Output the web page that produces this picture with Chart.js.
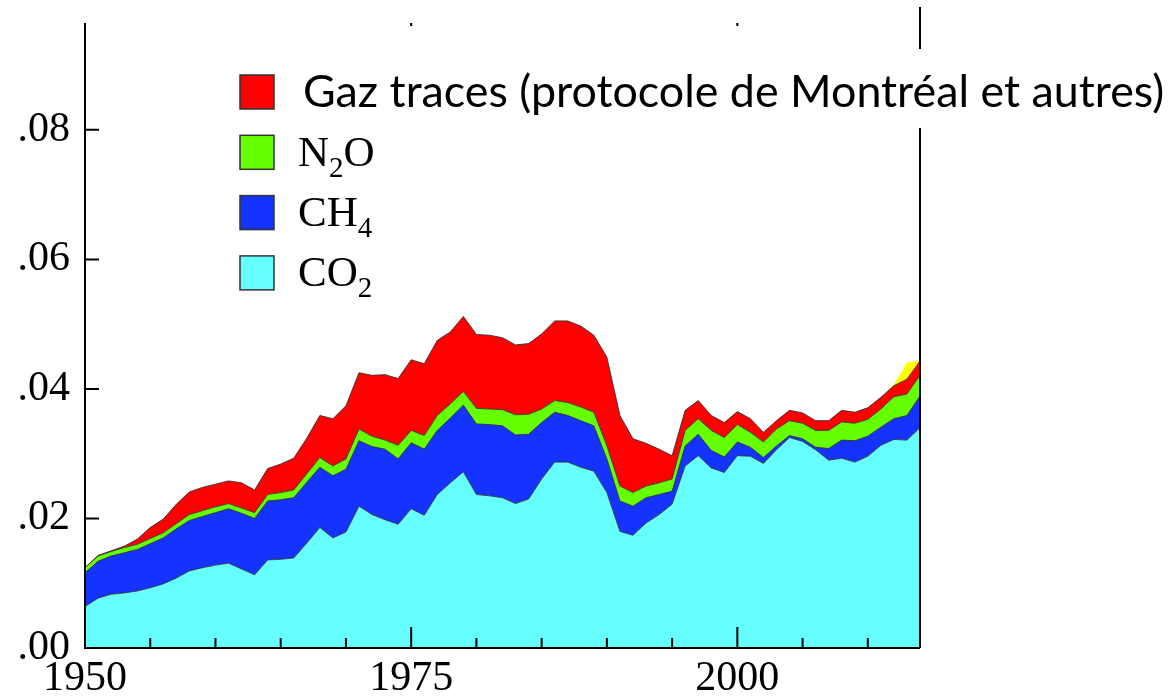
<!DOCTYPE html>
<html>
<head>
<meta charset="utf-8">
<script src="https://cdn.jsdelivr.net/npm/chart.js@4.4.1/dist/chart.umd.min.js"></script>
<style>
    html, body { margin: 0; padding: 0; background: #ffffff; }
    #wrap { width: 1176px; height: 699px; position: relative; }
</style>
</head>
<body>
<div id="wrap"><canvas id="forcageChart"></canvas></div>
<script>
// DONNEES
const years = [];
for (let y = 1950; y <= 2014; y++) years.push(y);

const co2 = [
    0.0064, 0.0077, 0.0083, 0.0085, 0.0088, 0.0093, 0.0099, 0.0108, 0.0119, 0.0124,
    0.0128, 0.0131, 0.0122, 0.0113, 0.0136, 0.0137, 0.0139, 0.0162, 0.0186, 0.0170,
    0.0179, 0.0219, 0.0206, 0.0198, 0.0191, 0.0215, 0.0205, 0.0237, 0.0255, 0.0272,
    0.0237, 0.0235, 0.0232, 0.0223, 0.0230, 0.0261, 0.0287, 0.0287, 0.0279, 0.0273,
    0.0240, 0.0180, 0.0174, 0.0193, 0.0206, 0.0222, 0.0281, 0.0297, 0.0278, 0.0271,
    0.0297, 0.0296, 0.0285, 0.0306, 0.0325, 0.0319, 0.0306, 0.0290, 0.0293, 0.0287,
    0.0296, 0.0313, 0.0322, 0.0321, 0.0340
];
const ch4 = [
    0.0052, 0.0057, 0.0059, 0.0062, 0.0064, 0.0068, 0.0071, 0.0076, 0.0078, 0.0079,
    0.0081, 0.0084, 0.0086, 0.0087, 0.0091, 0.0092, 0.0093, 0.0094, 0.0093, 0.0096,
    0.0097, 0.0101, 0.0105, 0.0109, 0.0101, 0.0102, 0.0102, 0.0099, 0.0100, 0.0103,
    0.0109, 0.0110, 0.0111, 0.0106, 0.0100, 0.0087, 0.0077, 0.0072, 0.0072, 0.0070,
    0.0052, 0.0047, 0.0045, 0.0039, 0.0031, 0.0020, 0.0031, 0.0033, 0.0027, 0.0024,
    0.0021, 0.0014, 0.0009, 0.0006, 0.0003, 0.0004, 0.0004, 0.0018, 0.0028, 0.0033,
    0.0031, 0.0028, 0.0032, 0.0038, 0.0049
];
const n2o = [
    0.0008, 0.0008, 0.0007, 0.0008, 0.0008, 0.0008, 0.0008, 0.0008, 0.0009, 0.0009,
    0.0009, 0.0008, 0.0008, 0.0009, 0.0010, 0.0011, 0.0012, 0.0013, 0.0015, 0.0015,
    0.0016, 0.0018, 0.0016, 0.0014, 0.0021, 0.0019, 0.0021, 0.0023, 0.0022, 0.0021,
    0.0024, 0.0024, 0.0025, 0.0031, 0.0031, 0.0021, 0.0018, 0.0020, 0.0021, 0.0021,
    0.0020, 0.0023, 0.0021, 0.0018, 0.0018, 0.0019, 0.0024, 0.0024, 0.0031, 0.0030,
    0.0027, 0.0023, 0.0024, 0.0026, 0.0023, 0.0024, 0.0026, 0.0028, 0.0028, 0.0027,
    0.0026, 0.0028, 0.0034, 0.0033, 0.0032
];
const gazTraces = [
    0.0000, 0.0001, 0.0001, 0.0002, 0.0008, 0.0017, 0.0021, 0.0030, 0.0035, 0.0036,
    0.0035, 0.0035, 0.0039, 0.0035, 0.0040, 0.0044, 0.0049, 0.0055, 0.0065, 0.0073,
    0.0082, 0.0087, 0.0094, 0.0101, 0.0103, 0.0109, 0.0111, 0.0116, 0.0111, 0.0116,
    0.0114, 0.0114, 0.0111, 0.0108, 0.0109, 0.0116, 0.0123, 0.0126, 0.0125, 0.0119,
    0.0137, 0.0109, 0.0083, 0.0066, 0.0052, 0.0036, 0.0031, 0.0028, 0.0023, 0.0023,
    0.0020, 0.0021, 0.0015, 0.0013, 0.0016, 0.0016, 0.0015, 0.0015, 0.0018, 0.0017,
    0.0018, 0.0018, 0.0017, 0.0023, 0.0022
];
// petite bande jaune a la fin
const jauneFin = { 2012: 0.0002, 2013: 0.0026, 2014: 0.0001 };
const jaune = years.map(y => jauneFin[y] || 0);

const yTickValues = [0, 0.02, 0.04, 0.06, 0.08];
const yTickLabels = ['.00', '.02', '.04', '.06', '.08'];
const xTickYears = [1950, 1975, 2000];
const legendLabels = ['Gaz traces (protocole de Montréal et autres)', 'N₂O', 'CH₄', 'CO₂'];
const legendColors = ['#FF0000', '#66FF00', '#1433FF', '#66FFFF'];

const SERIF = '"Liberation Serif", "DejaVu Serif", serif';

// traits des axes, vers l'interieur
const axisMarks = {
    id: 'axisMarks',
    afterDatasetsDraw(chart) {
        const { ctx, chartArea: a, scales } = chart;
        const x = scales.x, y = scales.y;
        ctx.save();
        ctx.strokeStyle = '#000';
        ctx.lineWidth = 2;
        ctx.beginPath();
        ctx.moveTo(a.left, a.top);
        ctx.lineTo(a.left, a.bottom);
        ctx.lineTo(a.right, a.bottom);
        ctx.moveTo(a.right, 7);
        ctx.lineTo(a.right, a.bottom);
        years.forEach((yr, i) => {
            if ((yr - 1950) % 5 !== 0) return;
            const px = x.getPixelForValue(i);
            const len = (yr - 1950) % 25 === 0 ? 21 : 10;
            ctx.moveTo(px, a.bottom);
            ctx.lineTo(px, a.bottom - len);
            if (xTickYears.includes(yr) && yr !== 1950) {
                ctx.moveTo(px, a.top);
                ctx.lineTo(px, a.top + 3);
            }
        });
        yTickValues.forEach(v => {
            const py = y.getPixelForValue(v);
            ctx.moveTo(a.left, py);
            ctx.lineTo(a.left + 14, py);
        });
        ctx.stroke();
        ctx.restore();
    }
};

function drawWithSubscripts(ctx, text, x, baseline, size) {
    const subs = '₀₁₂₃₄₅₆₇₈₉';
    let cx = x;
    for (const ch of text) {
        const k = subs.indexOf(ch);
        if (k >= 0) {
            ctx.font = Math.round(size * 0.68) + 'px ' + SERIF;
            ctx.fillText(String(k), cx, baseline + 11);
            cx += ctx.measureText(String(k)).width;
        } else {
            ctx.font = size + 'px ' + SERIF;
            ctx.fillText(ch, cx, baseline);
            cx += ctx.measureText(ch).width;
        }
    }
}

// LEGENDE
const gasLegend = {
    id: 'gasLegend',
    afterDraw(chart) {
        const ctx = chart.ctx;
        ctx.save();
        ctx.fillStyle = '#fff';
        ctx.fillRect(290, 49, 886, 79);
        ctx.textBaseline = 'alphabetic';
        ctx.textAlign = 'left';
        legendLabels.forEach((label, i) => {
            const top = 75 + i * 60.3;
            ctx.fillStyle = legendColors[i];
            ctx.fillRect(240, top, 34, 34);
            ctx.strokeStyle = '#333';
            ctx.lineWidth = 1.5;
            ctx.strokeRect(240, top, 34, 34);
            ctx.fillStyle = '#000';
            if (i === 0) {
                ctx.font = '40px Lato';
                const w = ctx.measureText(label).width;
                const size = 40 * 861 / w;
                ctx.font = size.toFixed(1) + 'px Lato';
                ctx.fillText(label, 303, 107);
            } else {
                drawWithSubscripts(ctx, label, 298, 166 + (i - 1) * 60, 43);
            }
        });
        ctx.restore();
    }
};

document.addEventListener('DOMContentLoaded', function() {
    const ctx = document.getElementById('forcageChart').getContext('2d');

    const serie = (label, data, color, fill) => ({
        label: label,
        data: data,
        backgroundColor: color,
        borderColor: 'rgba(45,45,45,0.85)',
        borderWidth: 1,
        pointRadius: 0,
        tension: 0,
        fill: fill
    });

    new Chart(ctx, {
        type: 'line',
        data: {
            labels: years,
            datasets: [
                serie('CO₂', co2, '#66FFFF', 'origin'),
                serie('CH₄', ch4, '#1433FF', '-1'),
                serie('N₂O', n2o, '#66FF00', '-1'),
                serie('Gaz traces', gazTraces, '#FF0000', '-1'),
                Object.assign(serie('autre', jaune, '#FFFF00', '-1'), { borderWidth: 0 })
            ]
        },
        options: {
            responsive: true,
            maintainAspectRatio: false,
            animation: false,
            layout: {
                padding: { top: 23, right: 256, left: 0, bottom: 0 }
            },
            plugins: {
                legend: { display: false },
                tooltip: { enabled: false }
            },
            scales: {
                x: {
                    grid: { display: false, drawTicks: false },
                    border: { display: false },
                    afterFit(scale) {
                        scale.height = 51;
                        scale.paddingLeft = 0;
                        scale.paddingRight = 0;
                    },
                    ticks: {
                        autoSkip: false,
                        maxRotation: 0,
                        padding: 6,
                        color: '#000',
                        font: { family: SERIF, size: 42 },
                        callback: function(value) {
                            const yr = Number(this.getLabelForValue(value));
                            return xTickYears.includes(yr) ? String(yr) : null;
                        }
                    }
                },
                y: {
                    stacked: true,
                    min: 0,
                    max: 0.0965,
                    grid: { display: false, drawTicks: false },
                    border: { display: false },
                    afterFit(scale) {
                        scale.width = 85;
                        scale.paddingTop = 0;
                        scale.paddingBottom = 0;
                    },
                    ticks: {
                        stepSize: 0.02,
                        padding: 15,
                        color: '#000',
                        font: { family: SERIF, size: 42 },
                        callback: function(value) {
                            const i = yTickValues.findIndex(v => Math.abs(v - value) < 1e-6);
                            return i >= 0 ? yTickLabels[i] : null;
                        }
                    }
                }
            }
        },
        plugins: [axisMarks, gasLegend]
    });
});
</script>
</body>
</html>
